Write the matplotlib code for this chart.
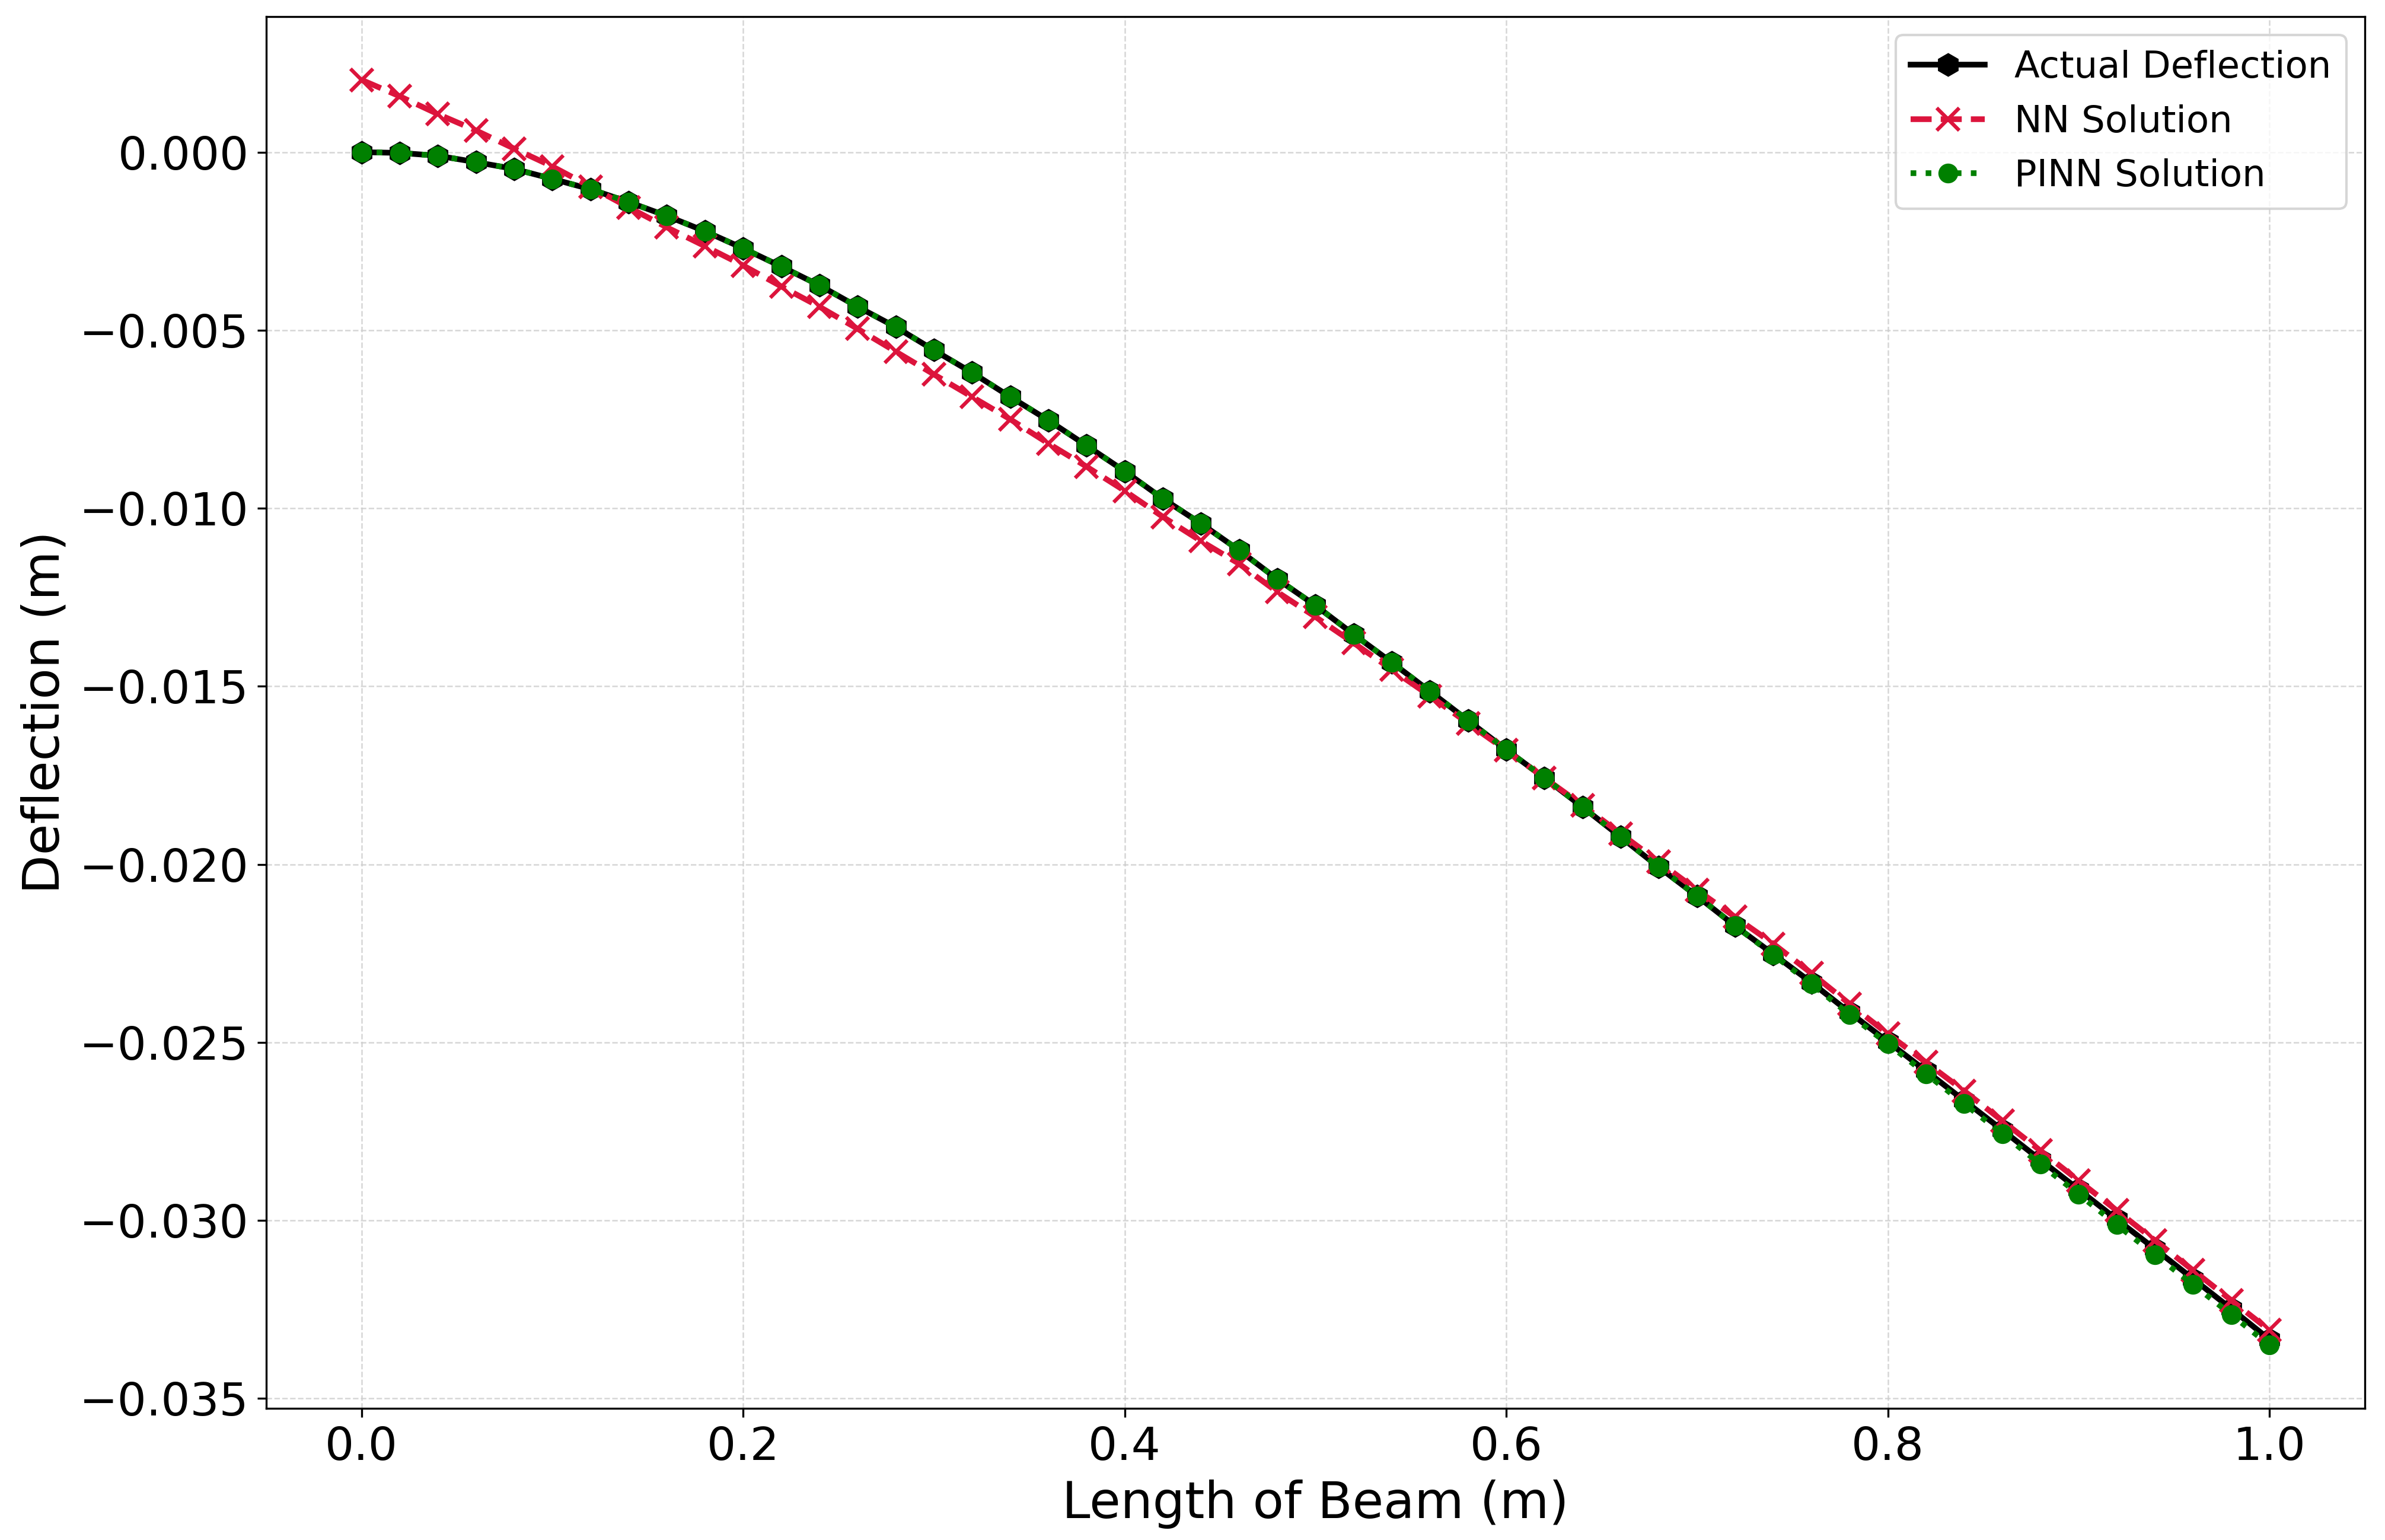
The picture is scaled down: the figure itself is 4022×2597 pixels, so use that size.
import numpy as np
import matplotlib
matplotlib.use("Agg")
import matplotlib.pyplot as plt

x = np.linspace(0, 1, 51)

actual = [0.0000, -0.00002, -0.00010, -0.00028, -0.00047, -0.00075, -0.00104, -0.00140,
          -0.00179, -0.00222, -0.00270, -0.00321, -0.00374, -0.00434, -0.00491, -0.00556,
          -0.00619, -0.00687, -0.00753, -0.00824, -0.00896, -0.00973, -0.01043, -0.01118,
          -0.01199, -0.01273, -0.01354, -0.01433, -0.01514, -0.01596, -0.01678, -0.01757,
          -0.01839, -0.01923, -0.02008, -0.02089, -0.02173, -0.02252, -0.02332, -0.02416,
          -0.02498, -0.02580, -0.02663, -0.02746, -0.02830, -0.02913, -0.02997, -0.03080,
          -0.03164, -0.03248, -0.03334]

pinn = [0.0000, -0.00002, -0.00010, -0.00028, -0.00047, -0.00075, -0.00104, -0.00140,
        -0.00179, -0.00222, -0.00270, -0.00321, -0.00374, -0.00434, -0.00491, -0.00556,
        -0.00619, -0.00687, -0.00753, -0.00824, -0.00896, -0.00973, -0.01043, -0.01118,
        -0.01199, -0.01273, -0.01354, -0.01433, -0.01514, -0.01596, -0.01678, -0.01757,
        -0.01839, -0.01923, -0.02008, -0.02089, -0.02173, -0.02254, -0.02336, -0.02422,
        -0.02504, -0.02588, -0.02672, -0.02756, -0.02842, -0.02926, -0.03012, -0.03096,
        -0.03180, -0.03264, -0.03350]

nn = [0.00203, 0.00157, 0.00107, 0.00061, 0.00010, -0.00040, -0.00097, -0.00155,
      -0.00211, -0.00264, -0.00318, -0.00377, -0.00434, -0.00496, -0.00560, -0.00624,
      -0.00687, -0.00750, -0.00818, -0.00883, -0.00951, -0.01024, -0.01092, -0.01156,
      -0.01235, -0.01305, -0.01378, -0.01453, -0.01527, -0.01604, -0.01680, -0.01757,
      -0.01834, -0.01914, -0.01993, -0.02072, -0.02148, -0.02223, -0.02306, -0.02392,
      -0.02476, -0.02556, -0.02636, -0.02720, -0.02804, -0.02888, -0.02972, -0.03056,
      -0.03140, -0.03224, -0.03308]

labels = ["Actual Deflection", "NN Solution", "PINN Solution"]

fig = plt.figure(figsize=(4022 / 300, 2597 / 300), dpi=300)
ax = fig.add_axes([0.1116, 0.0855, 0.8799, 0.9037])

ax.plot(x, actual, color="black", linestyle="-", linewidth=2.3, marker="h",
        markersize=8.5, label=labels[0])
ax.plot(x, nn, color="crimson", linestyle="--", linewidth=2.3, marker="x",
        markersize=9, markeredgewidth=1.5, label=labels[1])
ax.plot(x, pinn, color="green", linestyle=":", linewidth=2.3, marker="o",
        markersize=7, label=labels[2])

ax.set_xlabel("Length of Beam (m)", fontsize=20.5)
ax.set_ylabel("Deflection (m)", fontsize=20.5)
ax.tick_params(axis="both", labelsize=18.5)
ax.grid(True, linestyle="--", linewidth=0.6, color="#cccccc", alpha=0.8)
ax.legend(loc="upper right", fontsize=15)

fig.savefig("out.png", dpi=300)
